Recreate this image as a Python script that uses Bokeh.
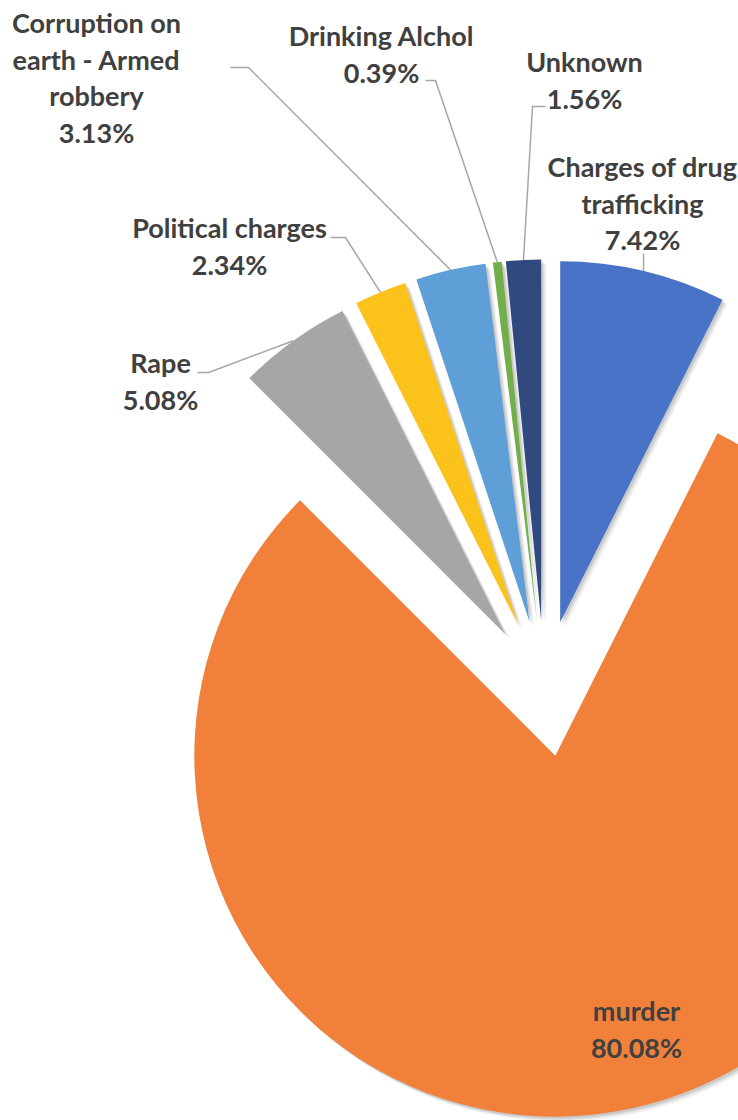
import numpy as np
from bokeh.plotting import figure
from bokeh.models import ColumnDataSource, Range1d
from bokeh.core.properties import value
from bokeh.embed import file_html
from bokeh.resources import INLINE

# ---------------- data ----------------
categories = ["Charges of drug trafficking", "murder", "Rape", "Political charges",
              "Corruption on earth - Armed robbery", "Drinking Alchol", "Unknown"]
percent = [7.42, 80.08, 5.08, 2.34, 3.13, 0.39, 1.56]
colors = ["#4873c6", "#f1803a", "#a6a6a6", "#fcc21c", "#5e9fd8", "#72ae4a", "#30497e"]
label_lines = [["Charges of drug", "trafficking"], ["murder"], ["Rape"], ["Political charges"],
               ["Corruption on", "earth - Armed", "robbery"], ["Drinking Alchol"], ["Unknown"]]

# ---------------- layout (screen pixels) ----------------
W, H = 738, 1120
OX, OY = 0, 0
CX, CY = 544, 688        # pie centre
R = 361                   # radius
EXP = 68                  # explosion distance
LINE_H = 36.5
FONT = "Lato"
FSIZE = "27px"
TXT_COL = "#404040"
LEADER_COL = "#a6a6a6"

# label block anchors: (centre x, first line y)
label_pos = [(642, 166), (636, 1010), (160, 362), (229, 227), (96, 22), (381, 35), (584, 61)]
# leader elbows: list of points from label side (None = no leader)
leader_pts = [[(643, 253)],
              None,
              [(197, 372), (208, 372)],
              [(330, 237), (345, 237)],
              [(230, 67), (248, 67)],
              [(425, 80), (435, 80)],
              [(545, 106), (532, 106)]]

p = figure(width=W, height=H, output_backend="svg", toolbar_location=None,
           x_range=Range1d(OX, OX + W), y_range=Range1d(-(OY + H), -OY),
           x_axis_location=None, y_axis_location=None, min_border=0,
           background_fill_color="white", border_fill_color="white")
p.grid.visible = False
p.outline_line_color = None

vals = np.array(percent, dtype=float)
frac = vals / vals.sum()
cum = np.concatenate([[0.0], np.cumsum(frac)])
th0 = cum[:-1] * 2 * np.pi
th1 = cum[1:] * 2 * np.pi
mid = (th0 + th1) / 2
wx = CX + EXP * np.sin(mid)
wy = -CY + EXP * np.cos(mid)

src = ColumnDataSource(dict(x=wx, y=wy, start=np.pi / 2 - th0, end=np.pi / 2 - th1,
                            color=colors, name=categories, pct=percent))

# soft shadow
for off, a in [(5, 0.05), (3.5, 0.07), (2, 0.10)]:
    ssrc = ColumnDataSource(dict(x=wx + off, y=wy - off, start=np.pi / 2 - th0, end=np.pi / 2 - th1))
    p.wedge(x="x", y="y", radius=R, start_angle="start", end_angle="end", direction="clock",
            source=ssrc, fill_color="black", fill_alpha=a, line_color=None)

p.wedge(x="x", y="y", radius=R, start_angle="start", end_angle="end", direction="clock",
        source=src, fill_color="color", line_color=None)

# leader lines: end on outer arc at bisector
for i, pts in enumerate(leader_pts):
    if pts is None:
        continue
    ex = wx[i] + R * np.sin(mid[i])
    ey = wy[i] + R * np.cos(mid[i])
    xs = [q[0] for q in pts] + [ex]
    ys = [-q[1] for q in pts] + [ey]
    p.line(xs, ys, line_color=LEADER_COL, line_width=1.5)

# labels
tx, ty, tt = [], [], []
for i, (cx_, cy_) in enumerate(label_pos):
    lines = label_lines[i] + [f"{percent[i]:.2f}%"]
    for k, ln in enumerate(lines):
        tx.append(cx_)
        ty.append(-(cy_ + k * LINE_H))
        tt.append(ln)
p.text(x=tx, y=ty, text=tt, text_align="center", text_baseline="middle",
       text_font=value(FONT), text_font_style="bold", text_font_size=FSIZE, text_color=TXT_COL)

open("out.html", "w").write(file_html(p, INLINE))
